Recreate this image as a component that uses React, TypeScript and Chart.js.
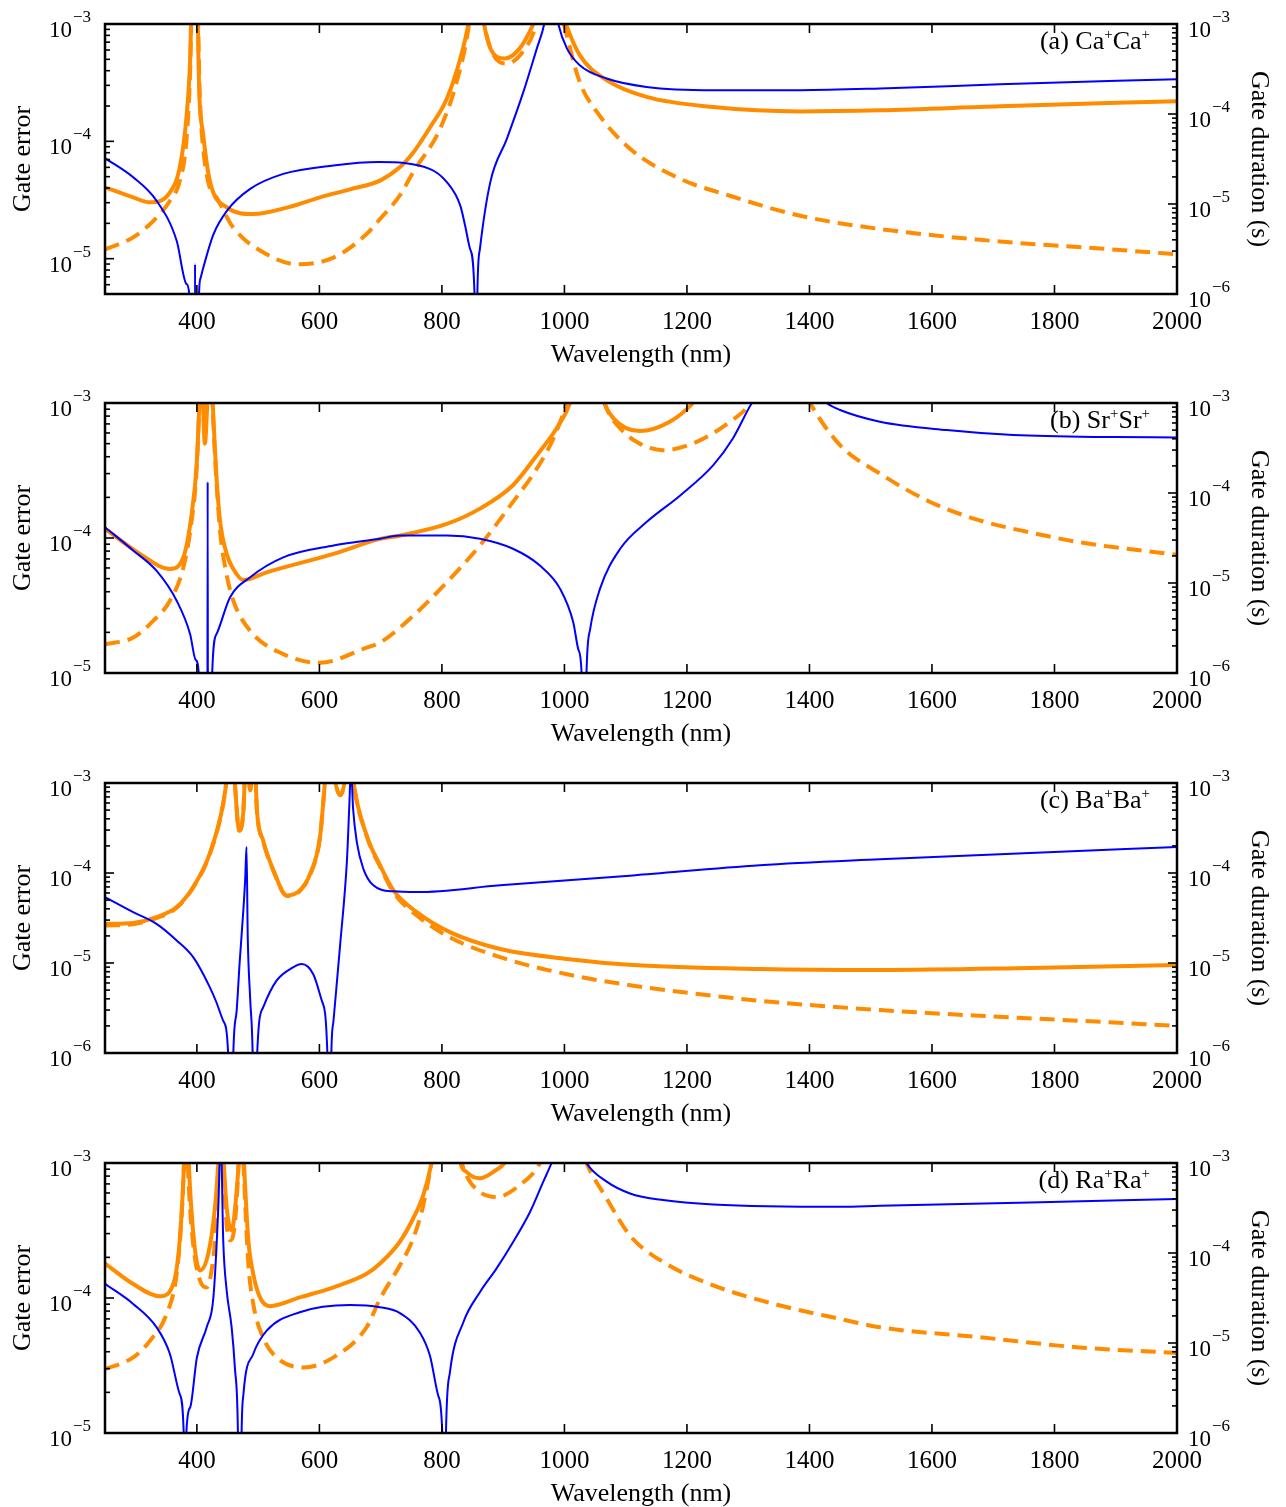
import React, { useEffect, useRef } from 'react';
import { Chart, registerables } from 'chart.js';

Chart.register(...registerables);

// ---------------- data ----------------
const xTicks = [400, 600, 800, 1000, 1200, 1400, 1600, 1800, 2000];
const panelTags = ['(a)', '(b)', '(c)', '(d)'];
const ionNames = ['Ca', 'Sr', 'Ba', 'Ra'];
const leftMins = [5e-6, 1e-5, 1e-6, 1e-5];
const rightMins = [1e-6, 1e-6, 1e-6, 1e-6];
const axisMax = 1e-3;

// (a) Ca+Ca+  [wavelength nm, value]
const aSolid: [number, number][] = [
  [250, 4.06e-5], [296, 3.33e-5], [323, 3.02e-5], [356, 3.68e-5], [372, 6.0e-5], [383, 1.61e-4], [389, 5e-4],
  [393, 3e-3], [396, 2e-3], [399, 3e-3], [404, 2.5e-4], [410, 1.17e-4], [421, 4.63e-5], [449, 2.74e-5],
  [492, 2.4e-5], [550, 2.75e-5], [601, 3.33e-5], [650, 3.9e-5], [699, 4.63e-5], [731, 6.0e-5], [753, 8.0e-5],
  [767, 1.02e-4], [780, 1.3e-4], [808, 2.31e-4], [830, 5.08e-4], [843, 1e-3], [855, 3e-3], [868, 1.05e-3], [879, 6.2e-4],
  [903, 5.08e-4], [927, 6.2e-4], [946, 9.2e-4], [952, 1.1e-3], [975, 3e-3], [1001, 1.05e-3], [1025, 5.43e-4],
  [1069, 3.32e-4], [1134, 2.39e-4], [1243, 1.96e-4], [1385, 1.8e-4], [1515, 1.84e-4], [1711, 1.99e-4], [2000, 2.2e-4],
];
const aDashed: [number, number][] = [
  [250, 1.2e-5], [296, 1.52e-5], [329, 2.1e-5], [356, 3.12e-5], [372, 4.6e-5], [383, 1.02e-4], [389, 4e-4],
  [393, 3e-3], [399, 3e-3], [405, 2.2e-4], [410, 9e-5], [421, 4.0e-5], [432, 3.33e-5], [459, 1.85e-5],
  [514, 1.09e-5], [563, 8.97e-6], [623, 1.02e-5], [677, 1.62e-5], [699, 2.18e-5], [731, 3.44e-5], [753, 5.45e-5],
  [797, 1.28e-4], [824, 3.2e-4], [843, 9e-4], [855, 3e-3], [868, 1.05e-3], [883, 5.6e-4], [906, 4.6e-4],
  [932, 5.8e-4], [952, 9.2e-4], [975, 3e-3], [998, 1.05e-3], [1025, 3.2e-4], [1053, 1.78e-4], [1107, 8.65e-5],
  [1189, 4.79e-5], [1270, 3.44e-5], [1385, 2.32e-5], [1515, 1.79e-5], [1711, 1.4e-5], [1874, 1.22e-5], [2000, 1.09e-5],
];
const aDuration: [number, number][] = [
  [250, 3.23e-5], [296, 1.98e-5], [334, 1.09e-5], [367, 3.9e-6], [383, 1.29e-6], [387.5, 1e-6], [390, 1e-8],
  [396.3, 1e-8], [397, 2.15e-6], [397.7, 1e-8], [401, 1e-8], [403.5, 1e-6], [406, 1.5e-6], [410.5, 1.97e-6], [427, 4.6e-6],
  [449, 8.4e-6], [487, 1.47e-5], [541, 2.16e-5], [623, 2.68e-5], [697, 2.92e-5], [780, 2.46e-5], [808, 1.75e-5],
  [830, 9.6e-6], [838, 5.7e-6], [846, 3.16e-6], [853, 1.1e-6], [855.5, 1e-8], [858, 1.1e-6], [862, 3.16e-6], [879, 1.75e-5],
  [906, 5.3e-5], [933, 1.76e-4], [955, 5.36e-4], [967, 1e-3], [978, 3e-3], [990, 1e-3], [1004, 5.36e-4],
  [1025, 3.49e-4], [1069, 2.48e-4], [1134, 2.0e-4], [1243, 1.84e-4], [1385, 1.84e-4], [1515, 1.92e-4],
  [1711, 2.14e-4], [2000, 2.44e-4],
];

// (b) Sr+Sr+
const bSolid: [number, number][] = [
  [250, 1.17e-4], [307, 7.63e-5], [356, 5.9e-5], [378, 7.2e-5], [391.5, 1.51e-4], [399.7, 3.56e-4], [404, 1e-3],
  [407, 3e-3], [410, 1e-3], [413, 5.0e-4], [417, 1e-3], [421, 3e-3], [425, 1.2e-3], [429, 5e-4], [432.3, 2.68e-4],
  [437.7, 1.35e-4], [448.6, 7.63e-5], [459.4, 5.9e-5], [476, 4.89e-5], [514, 5.57e-5], [623, 7.63e-5],
  [699, 9.86e-5], [731, 1.04e-4], [808, 1.27e-4], [862, 1.65e-4], [916, 2.46e-4], [955, 4.1e-4], [987, 6.48e-4],
  [1009, 1e-3], [1035, 3e-3], [1063, 1.05e-3], [1080, 7.7e-4], [1123, 6.19e-4], [1172, 7.26e-4], [1210, 1e-3],
  [1260, 2e-3], [1400, 3e-3], [1700, 3e-3], [2000, 3e-3],
];
const bDashed: [number, number][] = [
  [250, 1.63e-5], [296, 1.83e-5], [329, 2.44e-5], [356, 3.43e-5], [378, 6.07e-5], [391.5, 1.35e-4], [399.7, 3.3e-4],
  [404, 1e-3], [407, 3e-3], [413, 1.5e-3], [421, 3e-3], [425, 1.1e-3], [429, 4.5e-4], [433, 2.2e-4], [438, 1.1e-4],
  [448, 5.5e-5], [459.5, 3.43e-5], [487, 2.05e-5], [541, 1.38e-5], [601, 1.19e-5], [677, 1.54e-5], [699, 1.68e-5],
  [753, 2.65e-5], [808, 4.7e-5], [862, 8.8e-5], [916, 1.85e-4], [955, 3.27e-4], [982, 5.46e-4], [1004, 1e-3],
  [1035, 3e-3], [1069, 9.1e-4], [1091, 6.48e-4], [1123, 5.0e-4], [1161, 4.47e-4], [1216, 5.16e-4], [1270, 7.26e-4],
  [1303, 1e-3], [1350, 3e-3], [1401, 1e-3], [1450, 4.87e-4], [1515, 3.0e-4], [1597, 1.85e-4], [1678, 1.35e-4],
  [1760, 1.1e-4], [1841, 9.3e-5], [2000, 7.5e-5],
];
const bDuration: [number, number][] = [
  [250, 4.17e-5], [296, 2.3e-5], [334, 1.37e-5], [367, 6.35e-6], [389, 2.7e-6], [398, 1.4e-6], [403, 1e-6],
  [405, 1e-8], [417, 1e-8], [417.6, 1.33e-4], [418.2, 1e-8], [423, 1e-8], [425, 1e-6], [432, 2.7e-6],
  [454, 6.9e-6], [487, 1.16e-5], [541, 1.93e-5], [623, 2.61e-5], [699, 3.1e-5], [731, 3.37e-5], [808, 3.37e-5],
  [862, 3.1e-5], [916, 2.4e-5], [960, 1.56e-5], [993, 8.6e-6], [1014.5, 3.64e-6], [1022.6, 1.84e-6], [1028, 1e-6],
  [1032, 1e-8], [1036, 1e-6], [1042, 3.07e-6], [1058, 8.6e-6], [1091, 2.4e-5], [1134, 4.75e-5], [1189, 9.4e-5],
  [1243, 2.04e-4], [1275, 4.04e-4], [1306, 1e-3], [1360, 3e-3], [1428, 1e-3], [1450, 8.36e-4], [1515, 6.2e-4],
  [1624, 5.0e-4], [1733, 4.4e-4], [1896, 4.18e-4], [2000, 4.15e-4],
];

// (c) Ba+Ba+
const cSolid: [number, number][] = [
  [250, 2.72e-5], [296, 2.79e-5], [334, 3.23e-5], [367, 4.18e-5], [394, 6.98e-5], [421, 1.64e-4], [443, 5.94e-4],
  [451, 1.5e-3], [455, 3e-3], [461, 1.2e-3], [469, 2.99e-4], [476, 5e-4], [481, 3e-3], [487, 8.4e-4], [493, 3e-3],
  [498, 5e-4], [508, 2.31e-4], [525, 1.07e-4], [547, 5.64e-5], [568, 6.41e-5], [585, 9.8e-5], [601, 2.52e-4],
  [610, 1.2e-3], [616, 3e-3], [624, 1.2e-3], [634, 7.35e-4], [643, 1.2e-3], [649, 3e-3], [655, 1.1e-3],
  [677, 2.63e-4], [699, 1.22e-4], [721, 6.41e-5], [759, 3.67e-5], [813, 2.2e-5], [895, 1.43e-5], [1004, 1.11e-5],
  [1112, 9.5e-6], [1319, 8.58e-6], [1515, 8.36e-6], [1760, 8.8e-6], [2000, 9.5e-6],
];
const cDashed: [number, number][] = [
  [250, 2.61e-5], [296, 2.7e-5], [334, 3.15e-5], [367, 4.1e-5], [394, 6.9e-5], [421, 1.62e-4], [443, 5.9e-4],
  [451, 1.5e-3], [455, 3e-3], [461, 1.2e-3], [469, 2.95e-4], [476, 5e-4], [481, 3e-3], [487, 8.3e-4], [493, 3e-3],
  [498, 5e-4], [508, 2.28e-4], [525, 1.05e-4], [547, 5.55e-5], [568, 6.3e-5], [585, 9.6e-5], [601, 2.5e-4],
  [610, 1.2e-3], [616, 3e-3], [624, 1.2e-3], [634, 7.3e-4], [643, 1.2e-3], [649, 3e-3], [655, 1.1e-3],
  [677, 2.6e-4], [699, 1.18e-4], [721, 6.1e-5], [759, 3.37e-5], [813, 1.93e-5], [895, 1.16e-5], [1004, 7.5e-6],
  [1112, 5.6e-6], [1221, 4.5e-6], [1319, 3.8e-6], [1515, 3.0e-6], [1678, 2.59e-6], [1841, 2.28e-6], [2000, 2.0e-6],
];
const cDuration: [number, number][] = [
  [250, 5.4e-5], [296, 3.67e-5], [334, 2.72e-5], [367, 1.78e-5], [394, 1.16e-5], [421, 5.4e-6], [432, 3.64e-6],
  [443, 2.28e-6], [451, 1e-6], [455, 1e-8], [459.5, 1e-6], [465, 3e-6], [470, 1.06e-5], [476, 4e-5], [479, 9e-5],
  [481, 1.95e-4], [483, 2e-5], [487, 4e-6], [491, 1e-6], [495, 1e-8], [498.5, 1e-6], [508, 3.2e-6], [530, 6.36e-6],
  [557, 8.95e-6], [571, 9.75e-6], [590, 7.5e-6], [604, 3.8e-6], [613, 1e-6], [616, 1e-8], [619.5, 1e-6],
  [623, 2.28e-6], [634, 1.63e-5], [645, 1.4e-4], [649, 6e-4], [651.5, 1.5e-3], [655, 5.2e-4], [661, 2.22e-4],
  [671.6, 1.12e-4], [688, 7.3e-5], [721, 6.25e-5], [759, 6.14e-5], [895, 7.3e-5], [1112, 9.4e-5], [1319, 1.22e-4],
  [1515, 1.42e-4], [1760, 1.67e-4], [2000, 1.95e-4],
];

// (d) Ra+Ra+
const dSolid: [number, number][] = [
  [250, 1.8e-4], [296, 1.27e-4], [340, 1.03e-4], [361.5, 1.27e-4], [372, 2.68e-4], [379, 1e-3], [382, 3e-3],
  [386, 1.2e-3], [389, 6.3e-4], [397, 2.26e-4], [405, 1.6e-4], [418.6, 2.13e-4], [429.6, 4.73e-4], [435, 1e-3],
  [439, 3e-3], [443, 1.2e-3], [448.6, 4.73e-4], [456.7, 3.18e-4], [465, 6.3e-4], [469, 1.2e-3], [472, 3e-3],
  [476, 1.2e-3], [484, 2.68e-4], [492, 1.51e-4], [503, 1.01e-4], [519, 8.7e-5], [568, 1.01e-4], [623, 1.2e-4],
  [677, 1.51e-4], [699, 1.8e-4], [731, 2.6e-4], [753, 3.88e-4], [769.6, 5.78e-4], [783, 1e-3], [800, 3e-3],
  [820, 3e-3], [829.5, 1.05e-3], [840, 8.6e-4], [862, 7.7e-4], [884, 8.6e-4], [906, 1.05e-3], [950, 3e-3],
  [1100, 3e-3], [1500, 3e-3], [2000, 3e-3],
];
const dDashed: [number, number][] = [
  [250, 2.97e-5], [296, 3.63e-5], [323.5, 4.83e-5], [350.7, 7.63e-5], [367, 1.51e-4], [375, 4e-4], [379, 1e-3],
  [382, 3e-3], [386, 8e-4], [394, 2.5e-4], [405, 1.35e-4], [416, 1.2e-4], [424, 1.6e-4], [430, 2.9e-4], [435, 1e-3],
  [439, 3e-3], [443, 1e-3], [448.6, 3.5e-4], [454, 2.68e-4], [462, 3.56e-4], [469, 1.2e-3], [472, 3e-3],
  [476, 1e-3], [484, 1.8e-4], [492, 9.06e-5], [508, 5.1e-5], [530, 3.63e-5], [574, 3.06e-5], [623, 3.63e-5],
  [677, 6.07e-5], [699, 9.86e-5], [731.5, 1.75e-4], [753, 2.75e-4], [769.6, 4.87e-4], [783, 1e-3], [800, 3e-3],
  [820, 3e-3], [832, 1.05e-3], [840, 8.1e-4], [862, 6.1e-4], [889, 5.6e-4], [927, 6.86e-4], [960, 1e-3],
  [1000, 3e-3], [1036, 1e-3], [1069, 5.46e-4], [1107, 2.9e-4], [1161, 1.85e-4], [1243, 1.24e-4], [1352, 8.8e-5],
  [1450, 7.0e-5], [1515, 6.07e-5], [1678, 5.12e-5], [1841, 4.3e-5], [2000, 3.92e-5],
];
const dDuration: [number, number][] = [
  [250, 4.55e-5], [296, 2.72e-5], [334, 1.5e-5], [356, 7.55e-6], [372, 2.7e-6], [378.5, 1e-6], [380.6, 1e-8],
  [382.8, 1e-6], [389, 1.92e-6], [400, 6.9e-6], [416, 1.5e-5], [427, 3.23e-5], [435, 3.26e-4], [439, 2e-3],
  [443, 1.38e-4], [448.6, 3.84e-5], [456.7, 1.5e-5], [462, 5.36e-6], [467, 1e-6], [470, 1e-8], [473, 1e-6],
  [476, 2.7e-6], [492, 7.55e-6], [514, 1.37e-5], [568, 2.2e-5], [650, 2.65e-5], [699, 2.5e-5], [731.5, 2.15e-5],
  [764, 1.31e-5], [780.5, 7.2e-6], [794, 2.59e-6], [800.6, 1e-6], [803.5, 1e-8], [806.6, 1e-6], [813, 4.7e-6],
  [835, 1.7e-5], [862, 3.67e-5], [889, 6.7e-5], [916.5, 1.33e-4], [944, 2.87e-4], [965.5, 6.2e-4], [979, 1e-3],
  [1005, 3e-3], [1036, 1e-3], [1069, 6.2e-4], [1107, 4.59e-4], [1161, 3.87e-4], [1243, 3.46e-4], [1450, 3.26e-4],
  [1515, 3.34e-4], [1760, 3.65e-4], [2000, 3.97e-4],
];

const solidSeries = [aSolid, bSolid, cSolid, dSolid];
const dashedSeries = [aDashed, bDashed, cDashed, dDashed];
const durationSeries = [aDuration, bDuration, cDuration, dDuration];

// ---------------- styling / layout ----------------
const W = 1286;
const canvasHeights = [380, 380, 380, 367];
const padTops = [24, 23, 23, 23];
const PLOT_H = 270;
const LEFT_W = 105;
const RIGHT_W = 109;
const ORANGE = '#FF8C00';
const BLUE = '#0000FF';
const SERIF = '"Liberation Serif", "Times New Roman", serif';

function logTicks(min: number, max: number) {
  const out: { v: number; major: boolean; e: number }[] = [];
  const eMin = Math.floor(Math.log10(min) + 1e-9);
  const eMax = Math.round(Math.log10(max));
  for (let e = eMin; e <= eMax; e++) {
    for (let k = 1; k <= 9; k++) {
      const v = k * Math.pow(10, e);
      if (v >= min * 0.999 && v <= max * 1.001) out.push({ v, major: k === 1, e });
    }
  }
  return out;
}

function makePlugin(idx: number) {
  return {
    id: 'frameAndLabels' + idx,
    afterDatasetsDraw(chart: any) {
      const ctx = chart.ctx as CanvasRenderingContext2D;
      const { left, right, top, bottom } = chart.chartArea;
      const xs = chart.scales.x;
      const yl = chart.scales.yL;
      const yr = chart.scales.yR;
      const line = (x1: number, y1: number, x2: number, y2: number) => {
        ctx.beginPath();
        ctx.moveTo(x1, y1);
        ctx.lineTo(x2, y2);
        ctx.stroke();
      };
      ctx.save();
      ctx.strokeStyle = '#000';
      ctx.fillStyle = '#000';
      ctx.lineWidth = 1.6;
      for (const v of xTicks) {
        const px = xs.getPixelForValue(v);
        line(px, bottom, px, bottom - 9);
        line(px, top, px, top + 9);
      }
      for (const t of logTicks(leftMins[idx], axisMax)) {
        const py = yl.getPixelForValue(t.v);
        line(left, py, left + (t.major ? 9 : 5), py);
      }
      for (const t of logTicks(rightMins[idx], axisMax)) {
        const py = yr.getPixelForValue(t.v);
        line(right, py, right - (t.major ? 9 : 5), py);
      }
      ctx.lineWidth = 2.5;
      ctx.strokeRect(left, top, right - left, bottom - top);

      ctx.font = '25px ' + SERIF;
      ctx.textAlign = 'center';
      ctx.textBaseline = 'alphabetic';
      for (const v of xTicks) {
        ctx.fillText(String(v), xs.getPixelForValue(v), bottom + 35);
      }
      const big = '23px ' + SERIF;
      const small = '17px ' + SERIF;
      for (const t of logTicks(leftMins[idx], axisMax)) {
        if (!t.major) continue;
        const py = yl.getPixelForValue(t.v);
        ctx.font = big;
        ctx.textAlign = 'right';
        ctx.fillText('10', left - 33, py + 13);
        ctx.font = small;
        ctx.textAlign = 'left';
        ctx.fillText('\u2212' + Math.abs(t.e), left - 32, py - 2);
      }
      for (const t of logTicks(rightMins[idx], axisMax)) {
        if (!t.major) continue;
        const py = yr.getPixelForValue(t.v);
        ctx.font = big;
        ctx.textAlign = 'left';
        ctx.fillText('10', right + 11, py + 12.5);
        const w10 = ctx.measureText('10').width;
        ctx.font = small;
        ctx.fillText('\u2212' + Math.abs(t.e), right + 12 + w10, py - 2);
      }
      ctx.font = '26px ' + SERIF;
      ctx.textAlign = 'center';
      ctx.fillText('Wavelength (nm)', (left + right) / 2, bottom + 68);
      const midY = (top + bottom) / 2;
      ctx.save();
      ctx.translate(23, midY);
      ctx.rotate(-Math.PI / 2);
      ctx.textBaseline = 'middle';
      ctx.fillText('Gate error', 0, 0);
      ctx.restore();
      ctx.save();
      ctx.translate(1259, midY);
      ctx.rotate(Math.PI / 2);
      ctx.textBaseline = 'middle';
      ctx.fillText('Gate duration (s)', 0, 0);
      ctx.restore();

      const ion = ionNames[idx];
      const parts: [string, string, number][] = [
        [panelTags[idx] + ' ' + ion, '26px ' + SERIF, 0],
        ['+', '15px ' + SERIF, -10],
        [ion, '26px ' + SERIF, 0],
        ['+', '15px ' + SERIF, -10],
      ];
      let total = 0;
      for (const p of parts) {
        ctx.font = p[1];
        total += ctx.measureText(p[0]).width;
      }
      let x = right - 27 - total;
      const base = top + 24.5;
      ctx.textAlign = 'left';
      ctx.textBaseline = 'alphabetic';
      for (const p of parts) {
        ctx.font = p[1];
        ctx.fillText(p[0], x, base + p[2]);
        x += ctx.measureText(p[0]).width;
      }
      ctx.restore();
    },
  };
}

function toPoints(arr: [number, number][]) {
  return arr.map(([x, y]) => ({ x, y }));
}

function Panel({ idx }: { idx: number }) {
  const ref = useRef<HTMLCanvasElement | null>(null);
  const H = canvasHeights[idx];
  const T = padTops[idx];
  useEffect(() => {
    if (!ref.current) return;
    const common = { pointRadius: 0, cubicInterpolationMode: 'monotone', fill: false, clip: 0 };
    const chart = new Chart(ref.current, {
      type: 'line',
      data: {
        datasets: [
          { ...common, data: toPoints(durationSeries[idx]), yAxisID: 'yR', borderColor: BLUE, borderWidth: 2, order: 0 },
          { ...common, data: toPoints(solidSeries[idx]), yAxisID: 'yL', borderColor: ORANGE, borderWidth: 4, order: 1 },
          {
            ...common,
            data: toPoints(dashedSeries[idx]),
            yAxisID: 'yL',
            borderColor: ORANGE,
            borderWidth: 4,
            borderDash: [15, 8],
            order: 2,
          },
        ],
      },
      options: {
        responsive: false,
        animation: false,
        devicePixelRatio: 1,
        events: [],
        layout: { padding: { top: T, left: 0, right: 0, bottom: 0 } },
        plugins: { legend: { display: false }, tooltip: { enabled: false }, title: { display: false } },
        elements: { point: { radius: 0 } },
        scales: {
          x: {
            type: 'linear',
            min: 250,
            max: 2000,
            ticks: { display: false },
            grid: { display: false },
            border: { display: false },
            afterFit: (s: any) => {
              s.height = H - T - PLOT_H;
            },
          },
          yL: {
            type: 'logarithmic',
            position: 'left',
            min: leftMins[idx],
            max: axisMax,
            ticks: { display: false },
            grid: { display: false },
            border: { display: false },
            afterFit: (s: any) => {
              s.width = LEFT_W;
            },
          },
          yR: {
            type: 'logarithmic',
            position: 'right',
            min: rightMins[idx],
            max: axisMax,
            ticks: { display: false },
            grid: { display: false },
            border: { display: false },
            afterFit: (s: any) => {
              s.width = RIGHT_W;
            },
          },
        },
      } as any,
      plugins: [makePlugin(idx)],
    } as any);
    return () => chart.destroy();
  }, [idx]);
  return <canvas ref={ref} width={W} height={H} style={{ display: 'block', width: W, height: H }} />;
}

export default function App() {
  return (
    <div style={{ position: 'absolute', left: 0, top: 0, width: W, background: '#fff' }}>
      {[0, 1, 2, 3].map((i) => (
        <Panel key={i} idx={i} />
      ))}
    </div>
  );
}
